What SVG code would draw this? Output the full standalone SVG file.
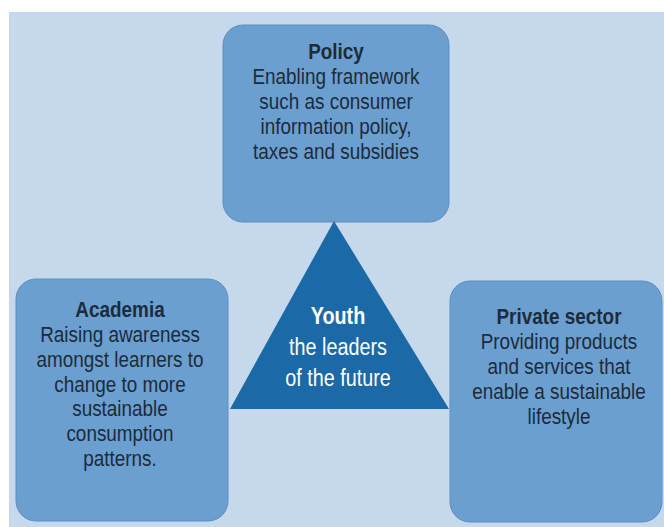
<svg xmlns="http://www.w3.org/2000/svg" width="664" height="527" viewBox="0 0 664 527">
  <style>
    .box { fill: #6a9fcf; stroke: #5b90c2; stroke-width: 1; }
    .txt { font-family: "Liberation Sans", Arial, sans-serif; font-size: 22px; text-anchor: middle; fill: #1d2b3b; }
    .ttl { font-weight: bold; }
    .light { fill: #ffffff; font-size: 23px; }
  </style>
  <rect width="664" height="527" fill="#ffffff"/>
  <!-- backdrop panel -->
  <rect x="9" y="12" width="655" height="515" fill="#c6d8ec"/>

  <g id="connectors">
  </g>

  <!-- each line is drawn narrowed horizontally to give a condensed face -->
  <g id="policy">
    <rect class="box" x="223" y="25" width="226" height="197" rx="20"/>
    <text class="txt ttl" transform="translate(336 59) scale(0.86 1)">Policy</text>
    <text class="txt" transform="translate(336 84) scale(0.86 1)">Enabling framework</text>
    <text class="txt" transform="translate(336 109) scale(0.86 1)">such as consumer</text>
    <text class="txt" transform="translate(336 134) scale(0.86 1)">information policy,</text>
    <text class="txt" transform="translate(336 159) scale(0.86 1)">taxes and subsidies</text>
  </g>

  <g id="academia">
    <rect class="box" x="16" y="279" width="212" height="242" rx="20"/>
    <text class="txt ttl" transform="translate(120 317) scale(0.86 1)">Academia</text>
    <text class="txt" transform="translate(120 342) scale(0.86 1)">Raising awareness</text>
    <text class="txt" transform="translate(120 367) scale(0.86 1)">amongst learners to</text>
    <text class="txt" transform="translate(120 392) scale(0.86 1)">change to more</text>
    <text class="txt" transform="translate(120 416) scale(0.86 1)">sustainable</text>
    <text class="txt" transform="translate(120 441) scale(0.86 1)">consumption</text>
    <text class="txt" transform="translate(120 466) scale(0.86 1)">patterns.</text>
  </g>

  <g id="private-sector">
    <rect class="box" x="450" y="281" width="212" height="241" rx="20"/>
    <text class="txt ttl" transform="translate(559 324) scale(0.86 1)">Private sector</text>
    <text class="txt" transform="translate(559 349) scale(0.86 1)">Providing products</text>
    <text class="txt" transform="translate(559 374) scale(0.86 1)">and services that</text>
    <text class="txt" transform="translate(559 399) scale(0.86 1)">enable a sustainable</text>
    <text class="txt" transform="translate(559 424) scale(0.86 1)">lifestyle</text>
  </g>

  <g id="youth">
    <polygon points="334,221 449,409 230,409" fill="#1b6aa7"/>
    <text class="txt ttl light" transform="translate(338 324) scale(0.86 1)">Youth</text>
    <text class="txt light" transform="translate(338 355) scale(0.86 1)">the leaders</text>
    <text class="txt light" transform="translate(338 386) scale(0.86 1)">of the future</text>
  </g>
</svg>
